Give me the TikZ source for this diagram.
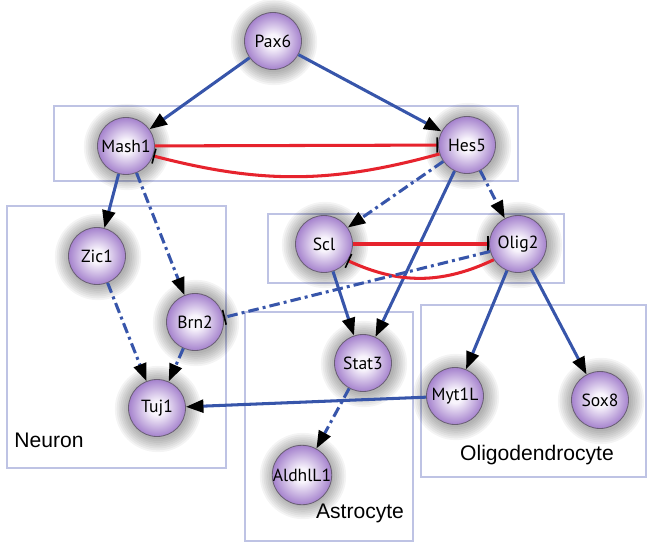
\documentclass[tikz,border=0pt]{standalone}
\usepackage{fontspec}
\setmainfont{Liberation Sans}
\newfontfamily\genefont{PT Sans}
\usetikzlibrary{arrows.meta,backgrounds}
\definecolor{lineblue}{RGB}{55,85,170}
\definecolor{linered}{RGB}{230,35,45}
\definecolor{boxblue}{RGB}{190,195,228}
\definecolor{beadlight}{RGB}{248,244,252}
\definecolor{beadedge}{RGB}{165,130,205}
\definecolor{beadrim}{RGB}{105,95,115}
\pgfdeclareradialshading{bead}{\pgfpointorigin}{color(0bp)=(beadlight); color(6bp)=(beadlight); color(25bp)=(beadedge); color(50bp)=(beadedge)}
\tikzset{
	gene node/.style={circle, draw=beadrim, line width=0.7pt, shading=bead, minimum size=17.1mm, inner sep=0, font=\genefont\fontsize{15}{17}\selectfont},
	cell box/.style={draw=boxblue, line width=1.6pt},
	box label/.style={font=\fontsize{18}{20}\selectfont, inner sep=0},
	act/.style={draw=lineblue, line width=2.6pt, -{Triangle[color=black, length=15pt, width=11pt]}},
	inh/.style={line width=2.6pt, -{Bar[color=black, width=13pt, line width=1.4pt]}},
	dashdot/.style={dash pattern=on 9pt off 3.5pt on 2.5pt off 3.5pt},
}
\begin{document}
\begin{tikzpicture}[x=0.3mm, y=-0.3mm]
\useasboundingbox (0,0) rectangle (648,541);

\node(pax6)[gene node] at (273,41) {Pax6};
\node(mash1)[gene node] at (126,146) {Mash1};
\node(hes5)[gene node] at (467,145) {Hes5};
\node(zic1)[gene node] at (97,256) {Zic1};
\node(brn2)[gene node] at (195,322) {Brn2};
\node(tuj1)[gene node] at (157,408) {Tuj1};
\node(scl)[gene node] at (324,244) {Scl};
\node(olig2)[gene node] at (518,244) {Olig2};
\node(stat3)[gene node] at (363,363) {Stat3};
\node(myt1l)[gene node] at (455,396) {Myt1L};
\node(sox8)[gene node] at (600,400) {Sox8};
\node(aldh)[gene node] at (302,475) {AldhlL1};

\node(neuron)[box label] at (49,440) {Neuron};
\node(astro)[box label] at (360,513) {Astrocyte};
\node(oligo)[box label] at (537,455) {Oligodendrocyte};

\begin{scope}[on background layer]
  \draw[cell box] (54,106) rectangle (518,181);
  \draw[cell box] (268,214) rectangle (564,283);
  \draw[cell box] (7,206) rectangle (226,468);
  \draw[cell box] (245,312) rectangle (413,541);
  \draw[cell box] (421,305) rectangle (646,477);
  \foreach \g in {pax6,mash1,hes5,zic1,brn2,tuj1,scl,olig2,stat3,myt1l,sox8,aldh}
    \foreach \r in {1,...,8}
      \fill[black, opacity=0.045] ([shift={(1,1)}]\g.center) circle[radius=8.55mm+\r*0.55mm];
\end{scope}

\draw[act] (pax6) -- (mash1);
\draw[act] (pax6) -- (hes5);
\draw[inh, linered] (mash1) -- (hes5);
\draw[inh, linered] (hes5.198) to[bend left=15] (mash1.-20);
\draw[act] (mash1) -- (zic1);
\draw[act, dashdot] (mash1) -- (brn2);
\draw[act, dashdot] (hes5) -- (scl);
\draw[act] (hes5) -- (stat3);
\draw[act, dashdot] (hes5) -- (olig2);
\draw[inh, linered] (scl) -- (olig2);
\draw[inh, linered] (olig2.213) to[bend left=25] (scl.-35);
\draw[inh, lineblue, dashdot] (olig2.195) -- (brn2.9);
\draw[act] (scl) -- (stat3);
\draw[act, dashdot] (zic1) -- (tuj1);
\draw[act, dashdot] (brn2) -- (tuj1);
\draw[act] (olig2) -- (myt1l);
\draw[act] (olig2) -- (sox8);
\draw[act] (myt1l) -- (tuj1);
\draw[act, dashdot] (stat3) -- (aldh);

\end{tikzpicture}
\end{document}
